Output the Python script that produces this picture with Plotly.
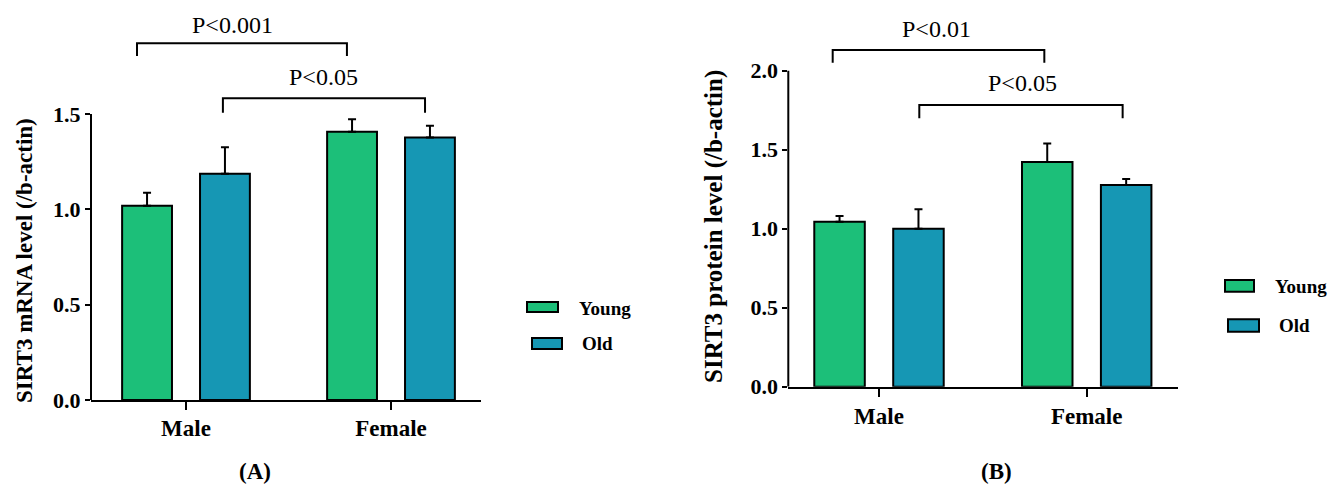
import plotly.graph_objects as go

W, H = 1331, 486

categories = ["Male", "Female"]
series_names = ["Young", "Old"]

# Panel A: SIRT3 mRNA
mrna_young = [1.019, 1.407]
mrna_young_err = [0.068, 0.065]
mrna_old = [1.187, 1.377]
mrna_old_err = [0.138, 0.061]

# Panel B: SIRT3 protein
prot_young = [1.044, 1.422]
prot_young_err = [0.036, 0.118]
prot_old = [1.000, 1.277]
prot_old_err = [0.123, 0.037]

a_ticks = [0.0, 0.5, 1.0, 1.5]
b_ticks = [0.0, 0.5, 1.0, 1.5, 2.0]

a_pvals = ["P<0.001", "P<0.05"]
b_pvals = ["P<0.01", "P<0.05"]

GREEN = "#1cbf79"
BLUE = "#1697b4"
FONT = "Liberation Serif"

fig = go.Figure()

def add_bars(xa, ya, young, yerr, old, oerr):
    for name, vals, err, col in [("Young", young, yerr, GREEN), ("Old", old, oerr, BLUE)]:
        fig.add_trace(go.Bar(
            x=categories, y=vals, name=name, xaxis=xa, yaxis=ya,
            marker=dict(color=col, line=dict(color="black", width=2)),
            error_y=dict(type="data", array=err, arrayminus=[0] * len(err), symmetric=False,
                         color="black", thickness=2, width=4),
            showlegend=False,
        ))

add_bars("x", "y", mrna_young, mrna_young_err, mrna_old, mrna_old_err)
add_bars("x2", "y2", prot_young, prot_young_err, prot_old, prot_old_err)

def px(v):
    return v / W

def py(v):
    return 1 - v / H

axis_common = dict(showgrid=False, zeroline=False, automargin=False)
tickfont = dict(family=FONT, size=22, color="black", weight="bold")
catfont = dict(family=FONT, size=23, color="black", weight="bold")

fig.update_layout(
    width=W, height=H,
    margin=dict(l=0, r=0, t=0, b=0, pad=0, autoexpand=False),
    paper_bgcolor="white", plot_bgcolor="white",
    showlegend=False,
    barmode="group", bargap=0.24, bargroupgap=0.36,
    xaxis=dict(domain=[px(91), px(481)], range=[-0.4634, 1.439], type="category",
               showline=True, linecolor="black", linewidth=2,
               ticks="outside", ticklen=8, tickwidth=2, tickcolor="black",
               ticklabelstandoff=-2,
               tickfont=catfont, anchor="y", **axis_common),
    yaxis=dict(domain=[py(400), 1], range=[0, 400 / 190.67], anchor="x",
               showline=False, ticks="outside", ticklen=5, tickwidth=2, tickcolor="black",
               tickvals=a_ticks, ticktext=[f"{t:.1f}" for t in a_ticks],
               tickfont=tickfont, **axis_common),
    xaxis2=dict(domain=[px(788.3), px(1178.3)], range=[-0.4367, 1.441], type="category",
                showline=True, linecolor="black", linewidth=2,
                ticks="outside", ticklen=8, tickwidth=2, tickcolor="black",
                tickfont=catfont, anchor="y2", **axis_common),
    yaxis2=dict(domain=[py(386.7), 1], range=[0, 386.7 / 158], anchor="x2",
                showline=False, ticks="outside", ticklen=5, tickwidth=2, tickcolor="black",
                tickvals=b_ticks, ticktext=[f"{t:.1f}" for t in b_ticks],
                tickfont=tickfont, **axis_common),
)

shapes = []
annotations = []

# y-axis lines ending at top tick
shapes.append(dict(type="line", xref="paper", yref="y", x0=px(91), x1=px(91),
                   y0=0, y1=a_ticks[-1], line=dict(color="black", width=2)))
shapes.append(dict(type="line", xref="paper", yref="y2", x0=px(788.3), x1=px(788.3),
                   y0=0, y1=b_ticks[-1], line=dict(color="black", width=2)))

# significance brackets: (xref, yref, x0, x1, ytop, yleg, label, xt, yt)
brackets = [
    ("x", "y", -0.239, 0.785, 1.871, 1.804, a_pvals[0], 0.229, 1.967),
    ("x", "y", 0.180, 1.166, 1.582, 1.507, a_pvals[1], 0.673, 1.694),
    ("x2", "y2", -0.223, 0.796, 2.131, 2.051, b_pvals[0], 0.278, 2.262),
    ("x2", "y2", 0.194, 1.173, 1.783, 1.699, b_pvals[1], 0.690, 1.920),
]
for xr, yr, x0, x1, yt_, yl, lab, xt, ytx in brackets:
    shapes.append(dict(type="path", xref=xr, yref=yr,
                       path=f"M {x0},{yl} L {x0},{yt_} L {x1},{yt_} L {x1},{yl}",
                       line=dict(color="black", width=2)))
    annotations.append(dict(xref=xr, yref=yr, x=xt, y=ytx, text=lab, showarrow=False,
                            xanchor="center", yanchor="middle",
                            font=dict(family=FONT, size=24, color="black")))

# y-axis titles
annotations.append(dict(xref="paper", yref="paper", x=px(24), y=py(261),
                        text="SIRT3 mRNA level (/b-actin)", textangle=-90, showarrow=False,
                        xanchor="center", yanchor="middle",
                        font=dict(family=FONT, size=23, color="black", weight="bold")))
annotations.append(dict(xref="paper", yref="paper", x=px(713.3), y=py(226.7),
                        text="SIRT3 protein level (/b-actin)", textangle=-90, showarrow=False,
                        xanchor="center", yanchor="middle",
                        font=dict(family=FONT, size=25, color="black", weight="bold")))

# panel labels
annotations.append(dict(xref="paper", yref="paper", x=px(255), y=py(471), text="(A)",
                        showarrow=False, xanchor="center", yanchor="middle",
                        font=dict(family=FONT, size=23, color="black", weight="bold")))
annotations.append(dict(xref="paper", yref="paper", x=px(996), y=py(471), text="(B)",
                        showarrow=False, xanchor="center", yanchor="middle",
                        font=dict(family=FONT, size=23, color="black", weight="bold")))

# custom legends
legend_specs = [
    # (swatch x0, x1, y0, y1, text x, text y, label, color)
    (527, 558, 302, 312, 577, 308, series_names[0], GREEN),
    (532, 562, 338, 349, 580, 343, series_names[1], BLUE),
    (1225, 1254, 280, 291.7, 1272.7, 286.7, series_names[0], GREEN),
    (1228, 1259, 319.3, 331.7, 1276.7, 325, series_names[1], BLUE),
]
for x0, x1, y0, y1, tx, ty, lab, col in legend_specs:
    shapes.append(dict(type="rect", xref="paper", yref="paper",
                       x0=px(x0), x1=px(x1), y0=py(y1), y1=py(y0),
                       fillcolor=col, line=dict(color="black", width=2)))
    annotations.append(dict(xref="paper", yref="paper", x=px(tx), y=py(ty), text=lab,
                            showarrow=False, xanchor="left", yanchor="middle",
                            font=dict(family=FONT, size=19, color="black", weight="bold")))

fig.update_layout(shapes=shapes, annotations=annotations)

fig.write_html(
    "out.html",
    config={"displayModeBar": False},
    post_script="document.body.style.margin='0';document.body.style.overflow='hidden';",
)
